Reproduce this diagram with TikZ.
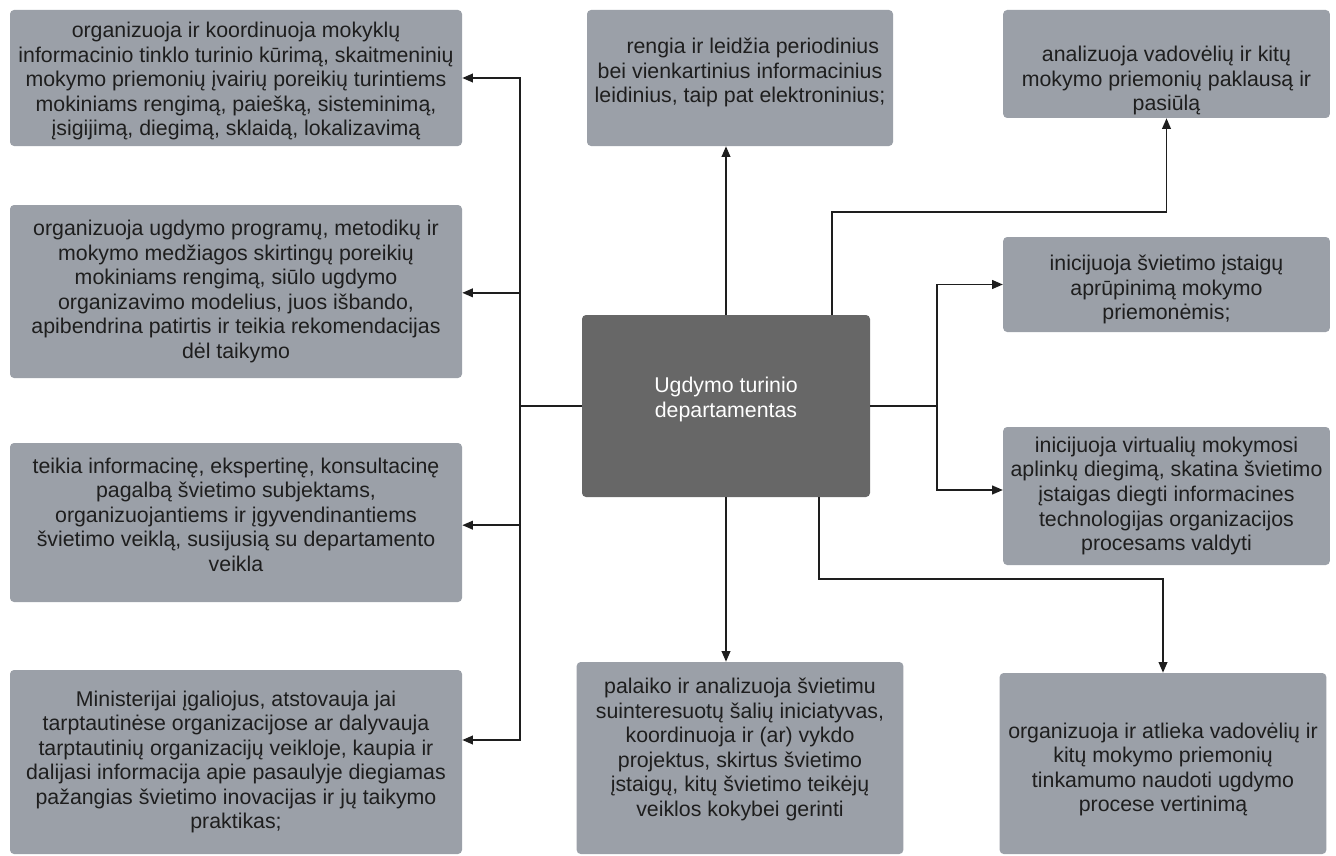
\documentclass[tikz,border=0pt]{standalone}
\usepackage{fontspec}
\setmainfont{Liberation Sans}
\usetikzlibrary{arrows.meta}
\definecolor{dutygray}{HTML}{9BA0A8}
\definecolor{deptgray}{HTML}{676767}
\definecolor{inkgray}{HTML}{1E1E1E}
\newlength\leftw
\setlength\leftw{339pt}
\newlength\rightw
\setlength\rightw{245pt}

\begin{document}
\begin{tikzpicture}[x=0.75pt,y=-0.75pt,
    duty/.style={fill=dutygray,rounded corners=3pt,text=inkgray,align=center,inner sep=1pt,
      font=\fontsize{16}{18.4}\selectfont},
    dept/.style={duty,fill=deptgray,text=white},
    link/.style={draw=inkgray,line width=1.3pt},
    tip/.style={link,-{Triangle[length=8pt,width=6.5pt]}}]
  \useasboundingbox (0,0) rectangle (1336,856);

  % centre
  \node[dept,minimum width=216pt,minimum height=136.5pt] (dept) at (726,406)
    {Ugdymo turinio\\departamentas\\[-5.4pt]};

  % left column
  \node[duty,minimum width=\leftw,minimum height=102pt] (org) at (236,78)
    {\mbox{}\\[-1.7pt]organizuoja ir koordinuoja mokyklų\\informacinio tinklo turinio kūrimą, skaitmeninių\\mokymo priemonių įvairių poreikių turintiems\\mokiniams rengimą, paiešką, sisteminimą,\\įsigijimą, diegimą, sklaidą, lokalizavimą};
  \node[duty,minimum width=\leftw,minimum height=129.75pt] (prog) at (236,291.5)
    {organizuoja ugdymo programų, metodikų ir\\mokymo medžiagos skirtingų poreikių\\mokiniams rengimą, siūlo ugdymo\\organizavimo modelius, juos išbando,\\apibendrina patirtis ir teikia rekomendacijas\\dėl taikymo};
  \node[duty,minimum width=\leftw,minimum height=119.25pt] (pagalba) at (236,522.5)
    {teikia informacinę, ekspertinę, konsultacinę\\pagalbą švietimo subjektams,\\organizuojantiems ir įgyvendinantiems\\švietimo veiklą, susijusią su departamento\\veikla\\[-6.5pt]};
  \node[duty,minimum width=\leftw,minimum height=138pt] (minist) at (236,762)
    {Ministerijai įgaliojus, atstovauja jai\\tarptautinėse organizacijose ar dalyvauja\\tarptautinių organizacijų veikloje, kaupia ir\\dalijasi informacija apie pasaulyje diegiamas\\pažangias švietimo inovacijas ir jų taikymo\\praktikas;};

  % top and bottom middle
  \node[duty,minimum width=229.5pt,minimum height=102pt] (leid) at (740,78)
    {\hspace*{1.2em}rengia ir leidžia periodinius\\bei vienkartinius informacinius\\leidinius, taip pat elektroninius;\\[-6.9pt]};
  \node[duty,minimum width=\rightw,minimum height=144pt] (proj) at (740,758)
    {palaiko ir analizuoja švietimu\\suinteresuotų šalių iniciatyvas,\\koordinuoja ir (ar) vykdo\\projektus, skirtus švietimo\\įstaigų, kitų švietimo teikėjų\\veiklos kokybei gerinti\\[-2.4pt]};

  % right column
  \node[duty,minimum width=\rightw,minimum height=81pt] (anal) at (1166.5,64)
    {\mbox{}\\[18pt]analizuoja vadovėlių ir kitų\\mokymo priemonių paklausą ir\\pasiūlą};
  \node[duty,minimum width=\rightw,minimum height=71.25pt] (apru) at (1166.5,284.5)
    {\mbox{}\\[1pt]inicijuoja švietimo įstaigų\\aprūpinimą mokymo\\priemonėmis;};
  \node[duty,minimum width=\rightw,minimum height=103.5pt] (virt) at (1166.5,496)
    {inicijuoja virtualių mokymosi\\aplinkų diegimą, skatina švietimo\\įstaigas diegti informacines\\technologijas organizacijos\\procesams valdyti};
  \node[duty,minimum width=\rightw,minimum height=135.75pt] (vert) at (1163,763.5)
    {\mbox{}\\[2pt]organizuoja ir atlieka vadovėlių ir\\kitų mokymo priemonių\\tinkamumo naudoti ugdymo\\procese vertinimą};

  % left connectors
  \coordinate (lj) at (520,406);
  \draw[link] (dept.west) -- (lj);
  \foreach \n/\s in {org/0pt,prog/-1pt,pagalba/-2pt,minist/16.5pt} {
    \draw[tip] (lj) |- ([yshift=\s]\n.east);
  }

  % right connectors
  \coordinate (rj) at (937,406);
  \draw[link] (dept.east) -- (rj);
  \foreach \n/\s in {apru/0pt,virt/4.5pt} {
    \draw[tip] (rj) |- ([yshift=\s]\n.west);
  }

  % up and down
  \draw[tip] (dept.north) -- (dept.north |- leid.south);
  \draw[tip] ([xshift=79.5pt]dept.north) -- ++(0,-103) -| (anal.south);
  \draw[tip] (dept.south) -- (dept.south |- proj.north);
  \draw[tip] ([xshift=69.75pt]dept.south) -- ++(0,82) -| (vert.north);
\end{tikzpicture}
\end{document}
